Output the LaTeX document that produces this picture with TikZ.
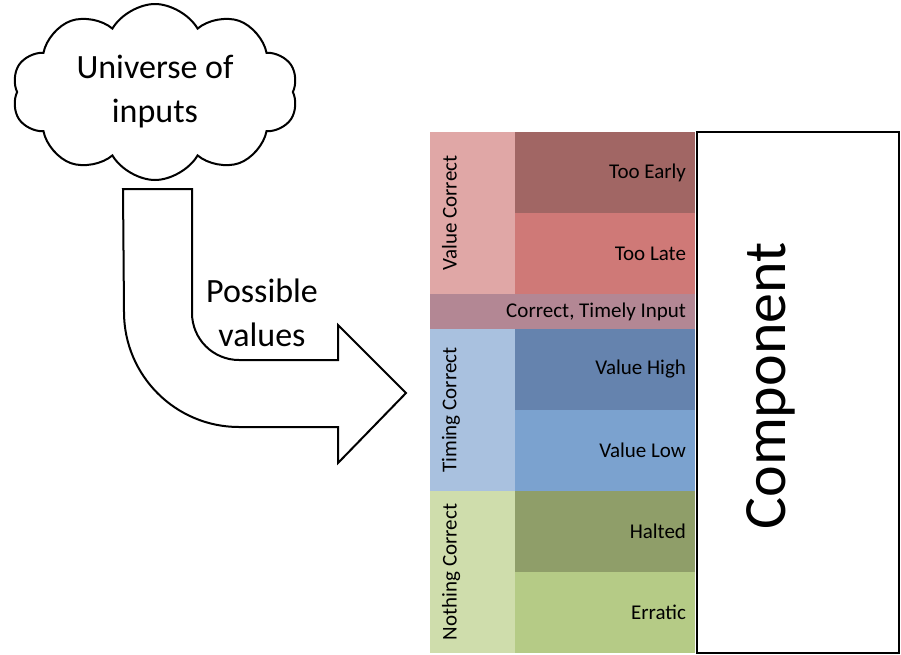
\documentclass[tikz,border=0pt]{standalone}
\usepackage{fontspec}
\setmainfont{Carlito}
\usetikzlibrary{shapes.symbols}
\definecolor{valcorr}{HTML}{E0A7A6}
\definecolor{tooearly}{HTML}{A16664}
\definecolor{toolate}{HTML}{CF7977}
\definecolor{timely}{HTML}{B38794}
\definecolor{timcorr}{HTML}{A9C1DF}
\definecolor{valhigh}{HTML}{6583AE}
\definecolor{vallow}{HTML}{7BA2CF}
\definecolor{nothcorr}{HTML}{CFDDAC}
\definecolor{halted}{HTML}{8F9E69}
\definecolor{erratic}{HTML}{B5CB86}
\begin{document}
\begin{tikzpicture}[x=1pt,y=1pt,
  cell/.style={fill=#1,minimum width=180pt,minimum height=81pt,text width=162pt,inner xsep=9pt,inner ysep=0pt,align=flush right,font=\fontsize{21}{25}\selectfont},
  grp/.style={fill=#1,minimum width=85pt,minimum height=162pt,inner sep=0pt},
  grplabel/.style={rotate=90,anchor=north,inner sep=0pt,font=\fontsize{21}{25}\selectfont}]
\useasboundingbox (0,0) rectangle (901,-654);
\node[cloud,draw,line width=2pt,cloud puffs=10,cloud puff arc=120,aspect=1.6,minimum width=286pt,minimum height=176pt,inner sep=0pt,align=center,font=\fontsize{34}{44}\selectfont] (univ)at(155,-92){Universe of\\inputs};
\draw[line width=2pt,line join=miter] (123,-189) -- (192,-189) -- (192,-313) arc[start angle=180,end angle=270,radius=47pt] -- (338,-360) -- (338,-325) -- (406,-393) -- (338,-463) -- (338,-427) -- (239,-427) arc[start angle=270,end angle=180,radius=115pt] -- cycle;
\node[align=center,font=\fontsize{34}{44}\selectfont] (vals)at(262,-313){Possible\\values};
\node[grp=valcorr] (vc)at(472.5,-213){};
\node[cell=tooearly] (early)at(605,-172.5){Too Early};
\node[cell=toolate] (late)at(605,-253.5){Too Late};
\node[cell=timely,minimum width=265pt,text width=247pt,minimum height=35pt] (ok)at(562.5,-311.5){Correct, Timely Input};
\node[grp=timcorr] (tc)at(472.5,-410){};
\node[cell=valhigh] (high)at(605,-369.5){Value High};
\node[cell=vallow] (low)at(605,-450.5){Value Low};
\node[grp=nothcorr] (nc)at(472.5,-572){};
\node[cell=halted] (halt)at(605,-531.5){Halted};
\node[cell=erratic] (err)at(605,-612.5){Erratic};
\node[grplabel] (vclabel)at([xshift=12pt]vc.west){Value Correct};
\node[grplabel] (tclabel)at([xshift=12pt]tc.west){Timing Correct};
\node[grplabel] (nclabel)at([xshift=12pt]nc.west){Nothing Correct};
\node[draw,line width=2pt,fill=white,minimum width=202pt,minimum height=521pt,inner sep=0pt] (comp)at(798,-392.5){};
\node[rotate=90,font=\fontsize{60}{68}\selectfont] (complabel)at(771,-386){Component};
\end{tikzpicture}
\end{document}
